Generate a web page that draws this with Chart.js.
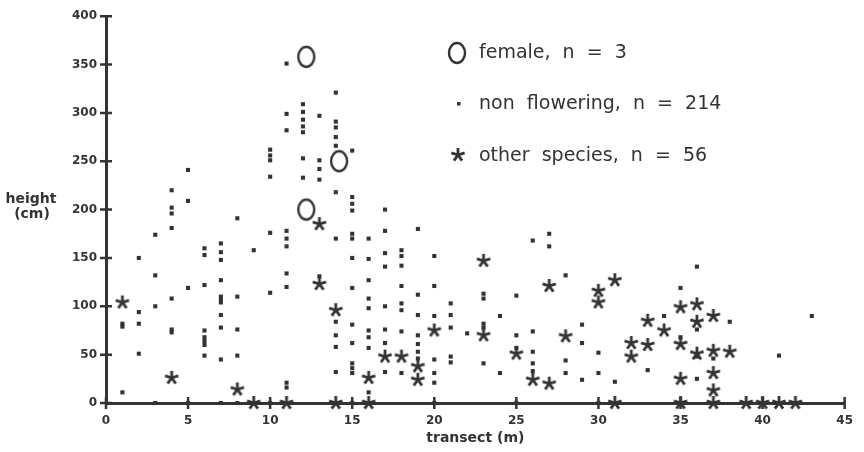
<!DOCTYPE html>
<html>
<head>
    <title>Height along transect</title>
    <script src="https://cdn.jsdelivr.net/npm/chart.js@4.4.0/dist/chart.umd.min.js"></script>
    <style>
        body {
            margin: 0;
            background: #ffffff;
        }
        #plot {
            display: block;
        }
    </style>
</head>
<body>
    <canvas id="plot" width="864" height="452"></canvas>

    <script>
        // female plants (x = transect m, y = height cm)
        const femaleX = [12.2, 14.2, 12.2];
        const femaleY = [358, 250, 200];

        // non flowering plants, one entry per transect metre: [x, heights]
        const nonFloweringCols = [
            [1, [82, 79, 11]],
            [2, [150, 94, 82, 51]],
            [3, [174, 132, 100, 0]],
            [4, [220, 202, 196, 181, 108, 76, 73]],
            [5, [241, 209, 119, 0]],
            [6, [160, 153, 122, 75, 68, 64, 60, 49]],
            [7, [165, 156, 148, 127, 110, 107, 104, 91, 78, 45, 0]],
            [8, [191, 110, 76, 49, 0]],
            [9, [158]],
            [10, [262, 256, 251, 234, 176, 114, 0]],
            [11, [351, 299, 282, 178, 170, 162, 134, 120, 21, 16]],
            [12, [309, 301, 293, 286, 280, 253, 233]],
            [13, [297, 251, 242, 231, 131]],
            [14, [321, 291, 285, 275, 266, 218, 170, 84, 70, 58, 32]],
            [15, [261, 213, 206, 199, 175, 170, 150, 119, 81, 62, 41, 36, 31, 0]],
            [16, [170, 149, 127, 108, 98, 75, 68, 57, 11]],
            [17, [200, 178, 155, 141, 100, 76, 62, 32]],
            [18, [158, 152, 142, 121, 103, 96, 74, 31]],
            [19, [180, 112, 91, 70, 61, 53, 46]],
            [20, [152, 121, 90, 45, 31, 21, 0]],
            [21, [103, 91, 78, 48, 42]],
            [22, [72]],
            [23, [113, 108, 82, 78, 41]],
            [24, [90, 31]],
            [25, [111, 70, 57, 0]],
            [26, [168, 74, 53, 41, 33]],
            [27, [175, 162]],
            [28, [132, 44, 31]],
            [29, [81, 62, 24]],
            [30, [52, 31, 0]],
            [31, [22]],
            [33, [34]],
            [34, [90]],
            [35, [119, 68]],
            [36, [141, 76, 48, 25]],
            [37, [46]],
            [38, [84]],
            [41, [49]],
            [43, [90]]
        ];

        // other species
        const otherX = [1, 4, 8, 9, 11, 13, 13, 14, 14, 16, 16, 17, 18, 19, 19, 20,
            23, 23, 25, 26, 27, 27, 28, 30, 30, 31, 31, 32, 32, 33, 33, 34,
            35, 35, 35, 35, 36, 36, 36, 37, 37, 37, 37, 37, 38, 39, 40, 41, 42];
        const otherY = [104, 26, 14, 0, 0, 185, 123, 96, 0, 26, 0, 48, 48, 38, 24, 75,
            147, 70, 51, 24, 121, 20, 69, 116, 104, 127, 0, 62, 48, 85, 60, 75,
            99, 61, 25, 0, 102, 84, 51, 90, 54, 31, 13, 0, 53, 0, 0, 0, 0];

        const xTicks = [0, 5, 10, 15, 20, 25, 30, 35, 40, 45];
        const yTicks = [0, 50, 100, 150, 200, 250, 300, 350, 400];

        const ink = '#333333';

        // marker images
        function makeRing() {
            const c = document.createElement('canvas');
            c.width = 22; c.height = 26;
            const g = c.getContext('2d');
            g.strokeStyle = ink;
            g.lineWidth = 2.4;
            g.beginPath();
            g.ellipse(11, 13, 8, 10, 0, 0, Math.PI * 2);
            g.stroke();
            return c;
        }
        function makeStar() {
            const c = document.createElement('canvas');
            c.width = 18; c.height = 18;
            const g = c.getContext('2d');
            g.strokeStyle = ink;
            g.lineWidth = 2.8;
            g.beginPath();
            for (let i = 0; i < 5; i++) {
                const a = -Math.PI / 2 + i * 2 * Math.PI / 5;
                g.moveTo(9, 9);
                g.lineTo(9 + 7 * Math.cos(a), 9 + 7 * Math.sin(a));
            }
            g.stroke();
            return c;
        }
        const ringImg = makeRing();
        const starImg = makeStar();

        const femalePts = femaleX.map((x, i) => ({ x: x, y: femaleY[i] }));
        const nonFloweringPts = [];
        nonFloweringCols.forEach(col => {
            col[1].forEach(h => nonFloweringPts.push({ x: col[0], y: h }));
        });
        const otherPts = otherX.map((x, i) => ({ x: x, y: otherY[i] }));

        // tick marks crossing the axes, y title and the legend
        const decorations = {
            id: 'decorations',
            beforeDatasetsDraw(chart) {
                const c = chart.ctx;
                const xs = chart.scales.x, ys = chart.scales.y;
                const ax = xs.left, ay = ys.bottom;
                c.save();
                c.strokeStyle = ink;
                c.lineWidth = 2.5;
                c.beginPath();
                yTicks.forEach(v => {
                    const py = ys.getPixelForValue(v);
                    c.moveTo(ax - 6, py);
                    c.lineTo(ax + 6, py);
                });
                xTicks.forEach(v => {
                    const px = xs.getPixelForValue(v);
                    c.moveTo(px, ay - 6);
                    c.lineTo(px, ay + 6);
                });
                c.stroke();
                c.restore();
            },
            afterDraw(chart) {
                const c = chart.ctx;
                c.save();
                c.fillStyle = ink;
                c.textAlign = 'center';
                c.textBaseline = 'middle';
                c.font = 'bold 14px "DejaVu Sans"';
                c.fillText('height', 31, 199);
                c.fillText('(cm)', 32, 214);

                // legend
                c.drawImage(ringImg, 457 - 11, 53 - 13);
                c.fillRect(457, 102, 3.5, 3.5);
                c.drawImage(starImg, 458 - 9, 155 - 9);
                c.textAlign = 'left';
                c.font = '19px "DejaVu Sans"';
                c.fillText('female,  n  =  3', 479, 53);
                c.fillText('non  flowering,  n  =  214', 479, 104);
                c.fillText('other  species,  n  =  56', 479, 156);
                c.restore();
            }
        };

        new Chart(document.getElementById('plot'), {
            type: 'scatter',
            data: {
                datasets: [
                    {
                        label: 'female, n = 3',
                        data: femalePts,
                        pointStyle: ringImg,
                        clip: false
                    },
                    {
                        label: 'non flowering, n = 214',
                        data: nonFloweringPts,
                        pointStyle: 'rect',
                        radius: 2.9,
                        backgroundColor: ink,
                        borderColor: ink,
                        borderWidth: 0,
                        clip: false
                    },
                    {
                        label: 'other species, n = 56',
                        data: otherPts,
                        pointStyle: starImg,
                        clip: false
                    }
                ]
            },
            options: {
                responsive: false,
                animation: false,
                events: [],
                layout: {
                    padding: { top: 14, right: 13, left: 0, bottom: 0 }
                },
                plugins: {
                    legend: { display: false },
                    tooltip: { enabled: false }
                },
                scales: {
                    x: {
                        type: 'linear',
                        min: 0,
                        max: 45,
                        afterFit: s => { s.height = 49; },
                        afterBuildTicks: s => { s.ticks = xTicks.map(v => ({ value: v })); },
                        grid: { display: false, drawTicks: false },
                        border: { display: true, color: ink, width: 3 },
                        ticks: {
                            padding: 11,
                            maxRotation: 0,
                            autoSkip: false,
                            color: ink,
                            font: { family: 'DejaVu Sans', size: 12, weight: 'bold' }
                        },
                        title: {
                            display: true,
                            text: 'transect (m)',
                            color: ink,
                            padding: { top: 0, bottom: 5 },
                            font: { family: 'DejaVu Sans', size: 14, weight: 'bold' }
                        }
                    },
                    y: {
                        type: 'linear',
                        min: 0,
                        max: 400,
                        afterFit: s => { s.width = 106; },
                        afterBuildTicks: s => { s.ticks = yTicks.map(v => ({ value: v })); },
                        grid: { display: false, drawTicks: false },
                        border: { display: true, color: ink, width: 3 },
                        ticks: {
                            padding: 9,
                            autoSkip: false,
                            color: ink,
                            font: { family: 'DejaVu Sans', size: 12, weight: 'bold' }
                        }
                    }
                }
            },
            plugins: [decorations]
        });
    </script>
</body>
</html>
